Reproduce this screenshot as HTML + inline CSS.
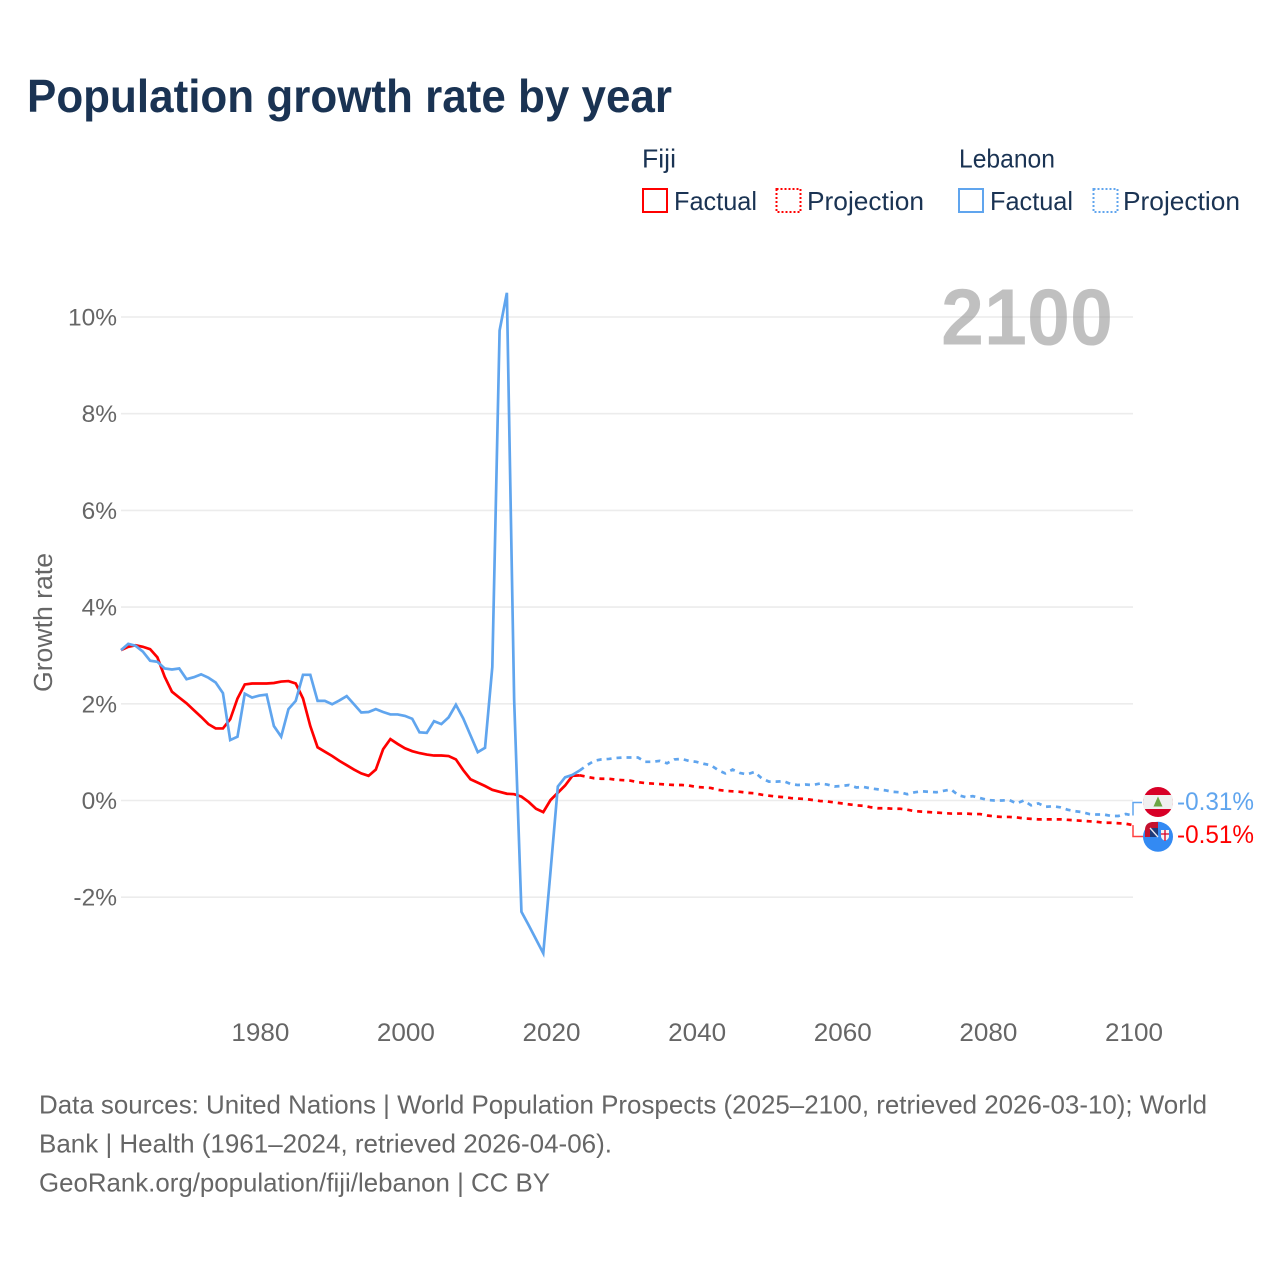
<!DOCTYPE html>
<html lang="en">
<head>
<meta charset="utf-8">
<title>Population growth rate by year</title>
<style>
html,body{margin:0;padding:0;background:#fff;width:1280px;height:1280px;overflow:hidden}
svg{display:block;font-family:"Liberation Sans",sans-serif}
</style>
</head>
<body>
<svg id="chart" xmlns="http://www.w3.org/2000/svg" width="1280" height="1280" viewBox="0 0 1280 1280">
  <rect x="0" y="0" width="1280" height="1280" fill="#fff"/>
  <text x="27" y="112" font-size="46" font-weight="700" fill="#1a3353" textLength="645" lengthAdjust="spacingAndGlyphs">Population growth rate by year</text>

  <g font-size="26" fill="#1a3353">
    <text x="642" y="167.5" textLength="34" lengthAdjust="spacingAndGlyphs">Fiji</text>
    <text x="959" y="167.5" textLength="96" lengthAdjust="spacingAndGlyphs">Lebanon</text>
    <rect x="643" y="189" width="24" height="23" fill="none" stroke="#ff0000" stroke-width="2"/>
    <text x="674" y="210" textLength="83" lengthAdjust="spacingAndGlyphs">Factual</text>
    <rect x="776.5" y="189" width="24" height="23" fill="none" stroke="#ff0000" stroke-width="2" stroke-dasharray="2,2"/>
    <text x="807" y="210" textLength="117" lengthAdjust="spacingAndGlyphs">Projection</text>
    <rect x="959" y="189" width="24" height="23" fill="none" stroke="#60a5ee" stroke-width="2"/>
    <text x="990" y="210" textLength="83" lengthAdjust="spacingAndGlyphs">Factual</text>
    <rect x="1093.5" y="189" width="24" height="23" fill="none" stroke="#60a5ee" stroke-width="2" stroke-dasharray="2,2"/>
    <text x="1123" y="210" textLength="117" lengthAdjust="spacingAndGlyphs">Projection</text>
  </g>

  <g id="grid"></g>
  <g id="yticks" font-size="24.5" fill="#666"></g>
  <g id="xticks" font-size="25" fill="#666"></g>
  <text transform="translate(52,692) rotate(-90)" font-size="25.5" fill="#666" textLength="139" lengthAdjust="spacingAndGlyphs">Growth rate</text>

  <text id="year-label" x="941" y="344.5" font-size="80" font-weight="700" fill="#999999" fill-opacity="0.62" textLength="172" lengthAdjust="spacingAndGlyphs"></text>

  <g id="series"></g>

  <g>
    <circle cx="1158" cy="802" r="15" fill="#d80027"/>
    <path d="M1144 795H1172Q1174 802 1172 809H1144Q1142 802 1144 795Z" fill="#f0f0f0"/>
    <path d="M1158 796.5L1162.5 806.5H1153.5Z" fill="#6da544"/>
  </g>
  <g>
    <circle cx="1158" cy="836.8" r="15" fill="#338af3"/>
    <path d="M1158 837V822H1152Q1145 823 1145 830V837Z" fill="#c4122f"/>
    <path d="M1150 828H1158V837H1150Z" fill="#1f3a7a"/>
    <path d="M1150 828L1158 837" stroke="#e8e8f0" stroke-width="1.4"/>
    <path d="M1161 830H1169V836.5Q1169 839 1165 841Q1161 839 1161 836.5Z" fill="#f4f4f4"/>
    <path d="M1165 830V841M1161 834H1169" stroke="#d80027" stroke-width="1.3"/>
  </g>

  <g id="end-labels" font-size="25"></g>

  <g font-size="26" fill="#666">
    <text x="39" y="1113.5" textLength="1168" lengthAdjust="spacingAndGlyphs">Data sources: United Nations | World Population Prospects (2025–2100, retrieved 2026-03-10); World</text>
    <text x="39" y="1152.5" textLength="573" lengthAdjust="spacingAndGlyphs">Bank | Health (1961–2024, retrieved 2026-04-06).</text>
    <text x="39" y="1191.5" textLength="511" lengthAdjust="spacingAndGlyphs">GeoRank.org/population/fiji/lebanon | CC BY</text>
  </g>
</svg>

<script>
const xTickLabels = [1980, 2000, 2020, 2040, 2060, 2080, 2100];
const yTickLabels = [-2, 0, 2, 4, 6, 8, 10];
const factualStartYear = 1961;
const projectionStartYear = 2024;
const currentYear = 2100;

const fijiFactual = [
  3.11,3.18,3.21,3.18,3.13,2.96,2.56,2.25,2.13,2.01,
  1.87,1.73,1.58,1.49,1.49,1.68,2.11,2.40,2.42,2.42,
  2.42,2.43,2.46,2.47,2.42,2.11,1.54,1.10,1.01,0.92,
  0.82,0.73,0.64,0.56,0.51,0.64,1.06,1.27,1.17,1.08,
  1.02,0.98,0.95,0.93,0.93,0.92,0.85,0.63,0.44,0.37,
  0.30,0.22,0.18,0.14,0.13,0.08,-0.03,-0.17,-0.24,0.01,
  0.16,0.31,0.51,0.52
];
const fijiProjection = [
  0.52,
  0.49,0.46,0.45,0.45,0.43,0.42,
  0.41,0.38,0.36,0.35,0.34,0.33,0.32,0.32,0.31,0.28,
  0.27,0.26,0.22,0.20,0.19,0.18,0.16,0.15,0.12,0.10,
  0.08,0.07,0.05,0.04,0.03,0.01,-0.01,-0.02,-0.04,-0.06,
  -0.08,-0.10,-0.11,-0.14,-0.16,-0.16,-0.17,-0.17,-0.19,-0.22,
  -0.23,-0.24,-0.25,-0.26,-0.27,-0.27,-0.27,-0.28,-0.28,-0.31,
  -0.33,-0.34,-0.34,-0.35,-0.37,-0.38,-0.39,-0.39,-0.39,-0.39,
  -0.40,-0.41,-0.42,-0.43,-0.44,-0.46,-0.46,-0.47,-0.48,-0.51
];
const lebanonFactual = [
  3.11,3.24,3.20,3.08,2.89,2.87,2.73,2.71,2.73,2.51,
  2.55,2.61,2.54,2.44,2.22,1.25,1.32,2.21,2.13,2.17,
  2.19,1.54,1.32,1.89,2.06,2.60,2.60,2.06,2.06,1.99,
  2.07,2.16,1.99,1.82,1.83,1.89,1.83,1.78,1.78,1.75,
  1.69,1.41,1.40,1.64,1.58,1.72,1.98,1.70,1.35,1.00,
  1.09,2.76,9.72,10.50,2.08,-2.30,-2.58,-2.87,-3.16,-1.46,
  0.29,0.48,0.53,0.62
];
const lebanonProjection = [
  0.62,
  0.73,0.82,0.85,0.86,0.88,0.89,
  0.89,0.89,0.80,0.80,0.82,0.77,0.85,0.86,0.82,0.80,
  0.76,0.73,0.63,0.56,0.64,0.57,0.54,0.59,0.46,0.39,
  0.39,0.40,0.34,0.32,0.33,0.32,0.35,0.33,0.29,0.30,
  0.32,0.27,0.28,0.25,0.23,0.21,0.18,0.17,0.13,0.17,
  0.19,0.18,0.17,0.20,0.23,0.11,0.07,0.09,0.05,0.01,
  0.00,0.00,0.01,-0.06,0.00,-0.10,-0.06,-0.13,-0.12,-0.14,
  -0.19,-0.22,-0.24,-0.28,-0.29,-0.29,-0.32,-0.32,-0.28,-0.31
];

const SVG_NS = 'http://www.w3.org/2000/svg';
function xScale(year) { return 121 + (year - 1961) * (1133 - 121) / 139; }
function yScale(value) { return 800.5 - value * 48.35; }
function linePath(values, startYear) {
  return values.map(function (v, i) {
    return (i ? 'L' : 'M') + xScale(startYear + i).toFixed(2) + ' ' + yScale(v).toFixed(2);
  }).join('');
}

const gridGroup = document.getElementById('grid');
const yTickGroup = document.getElementById('yticks');
const xTickGroup = document.getElementById('xticks');
const seriesGroup = document.getElementById('series');
const endLabelGroup = document.getElementById('end-labels');

yTickLabels.forEach(function (t) {
  const line = document.createElementNS(SVG_NS, 'line');
  
  
  line.setAttribute('x1', 121);
  line.setAttribute('x2', 1133);
  line.setAttribute('y1', yScale(t));
  line.setAttribute('y2', yScale(t));
  line.setAttribute('stroke', '#ececec');
  line.setAttribute('stroke-width', 1.6);
  gridGroup.appendChild(line);

  const label = document.createElementNS(SVG_NS, 'text');
  
  
  label.setAttribute('x', 117);
  label.setAttribute('y', yScale(t) + 8.5);
  label.setAttribute('text-anchor', 'end');
  label.textContent = t + '%';
  yTickGroup.appendChild(label);
});

xTickLabels.forEach(function (t) {
  const label = document.createElementNS(SVG_NS, 'text');
  
  
  label.setAttribute('x', xScale(t) + 1);
  label.setAttribute('y', 1041);
  label.setAttribute('text-anchor', 'middle');
  label.setAttribute('textLength', 58);
  label.setAttribute('lengthAdjust', 'spacingAndGlyphs');
  label.textContent = t;
  xTickGroup.appendChild(label);
});

document.getElementById('year-label').textContent = currentYear;

const fijiProjectionLine = document.createElementNS(SVG_NS, 'path');


fijiProjectionLine.setAttribute('d', linePath(fijiProjection, projectionStartYear));
fijiProjectionLine.setAttribute('fill', 'none');
fijiProjectionLine.setAttribute('stroke', '#ff0000');
fijiProjectionLine.setAttribute('stroke-width', 2.7);
fijiProjectionLine.setAttribute('stroke-dasharray', '5,5');
seriesGroup.appendChild(fijiProjectionLine);

const fijiFactualLine = document.createElementNS(SVG_NS, 'path');


fijiFactualLine.setAttribute('d', linePath(fijiFactual, factualStartYear));
fijiFactualLine.setAttribute('fill', 'none');
fijiFactualLine.setAttribute('stroke', '#ff0000');
fijiFactualLine.setAttribute('stroke-width', 2.7);
seriesGroup.appendChild(fijiFactualLine);

const lebanonProjectionLine = document.createElementNS(SVG_NS, 'path');


lebanonProjectionLine.setAttribute('d', linePath(lebanonProjection, projectionStartYear));
lebanonProjectionLine.setAttribute('fill', 'none');
lebanonProjectionLine.setAttribute('stroke', '#60a5ee');
lebanonProjectionLine.setAttribute('stroke-width', 2.7);
lebanonProjectionLine.setAttribute('stroke-dasharray', '5,5');
seriesGroup.appendChild(lebanonProjectionLine);

const lebanonFactualLine = document.createElementNS(SVG_NS, 'path');


lebanonFactualLine.setAttribute('d', linePath(lebanonFactual, factualStartYear));
lebanonFactualLine.setAttribute('fill', 'none');
lebanonFactualLine.setAttribute('stroke', '#60a5ee');
lebanonFactualLine.setAttribute('stroke-width', 2.7);
seriesGroup.appendChild(lebanonFactualLine);

const lebanonLast = lebanonProjection[lebanonProjection.length - 1];
const fijiLast = fijiProjection[fijiProjection.length - 1];
const endX = xScale(currentYear);

const lebanonConnector = document.createElementNS(SVG_NS, 'path');


lebanonConnector.setAttribute('d', 'M' + endX + ' ' + yScale(lebanonLast) + 'V802.5H1142');
lebanonConnector.setAttribute('fill', 'none');
lebanonConnector.setAttribute('stroke', '#60a5ee');
lebanonConnector.setAttribute('stroke-width', 1.5);
seriesGroup.appendChild(lebanonConnector);

const fijiConnector = document.createElementNS(SVG_NS, 'path');


fijiConnector.setAttribute('d', 'M' + endX + ' ' + yScale(fijiLast) + 'V836.5H1143');
fijiConnector.setAttribute('fill', 'none');
fijiConnector.setAttribute('stroke', '#ff4040');
fijiConnector.setAttribute('stroke-width', 1.5);
seriesGroup.appendChild(fijiConnector);

const lebanonEndLabel = document.createElementNS(SVG_NS, 'text');


lebanonEndLabel.setAttribute('x', 1177);
lebanonEndLabel.setAttribute('y', 810);
lebanonEndLabel.setAttribute('fill', '#60a5ee');
lebanonEndLabel.setAttribute('textLength', 77);
lebanonEndLabel.setAttribute('lengthAdjust', 'spacingAndGlyphs');
lebanonEndLabel.textContent = lebanonLast.toFixed(2) + '%';
endLabelGroup.appendChild(lebanonEndLabel);

const fijiEndLabel = document.createElementNS(SVG_NS, 'text');


fijiEndLabel.setAttribute('x', 1177);
fijiEndLabel.setAttribute('y', 843);
fijiEndLabel.setAttribute('fill', '#ff0000');
fijiEndLabel.setAttribute('textLength', 77);
fijiEndLabel.setAttribute('lengthAdjust', 'spacingAndGlyphs');
fijiEndLabel.textContent = fijiLast.toFixed(2) + '%';
endLabelGroup.appendChild(fijiEndLabel);
</script>
</body>
</html>
